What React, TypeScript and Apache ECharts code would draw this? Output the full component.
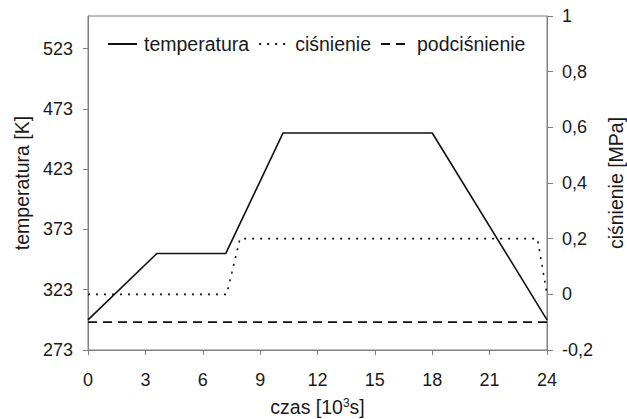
import React, { useEffect, useRef } from "react";
import * as echarts from "echarts";

const seriesNames = ["temperatura", "ciśnienie", "podciśnienie"];
const xTicks = [0, 3, 6, 9, 12, 15, 18, 21, 24];
const tempTicks = [273, 323, 373, 423, 473, 523];
const temperatura: [number, number][] = [
  [0, 298],
  [3.6, 353],
  [7.2, 353],
  [10.2, 453],
  [18, 453],
  [24, 298],
];
const cisnienie: [number, number][] = [
  [0, 0],
  [7.25, 0],
  [7.95, 0.2],
  [23.5, 0.2],
  [24, 0],
];
const podcisnienie: [number, number][] = [
  [0, -0.1],
  [24, -0.1],
];

const FONT = "Liberation Sans, Arial, Helvetica, sans-serif";
const TXT = "#1a1a1a";
const AX = "#7f7f7f";

export default function App() {
  const ref = useRef<HTMLDivElement>(null);
  useEffect(() => {
    if (!ref.current) return;
    const chart = echarts.init(ref.current, undefined, { renderer: "svg" });
    const lbl = { color: TXT, fontSize: 18, fontFamily: FONT };
    const nameStyle = { color: TXT, fontSize: 19.5, fontFamily: FONT };
    chart.setOption({
      animation: false,
      textStyle: { fontFamily: FONT },
      grid: {
        left: 88,
        right: 80,
        top: 16,
        bottom: 69,
        outerBoundsMode: "none",
        containLabel: false,
        show: true,
        borderColor: AX,
        borderWidth: 1,
        backgroundColor: "transparent",
      },
      legend: {
        data: seriesNames,
        left: 107,
        top: 34,
        padding: 0,
        itemWidth: 29,
        itemHeight: 12,
        itemGap: 9,
        itemStyle: { opacity: 0 },
        textStyle: { color: TXT, fontSize: 19.5, fontFamily: FONT, padding: [0, 0, 0, 2] },
      },
      xAxis: {
        type: "value",
        min: xTicks[0],
        max: xTicks[xTicks.length - 1],
        interval: 3,
        name: "{a|czas [10}{s|3}{a|s]}",
        nameLocation: "middle",
        nameGap: 47,
        nameTextStyle: {
          rich: {
            a: { ...nameStyle, lineHeight: 20 },
            s: { color: TXT, fontFamily: FONT, fontSize: 12, verticalAlign: "top", lineHeight: 12 },
          },
        },
        axisLine: { onZero: false, lineStyle: { color: AX, width: 1 } },
        axisTick: { length: 5, lineStyle: { color: AX } },
        axisLabel: { ...lbl, margin: 21 },
        splitLine: { show: false },
      },
      yAxis: [
        {
          type: "value",
          min: 273,
          max: 550,
          name: "temperatura [K]",
          nameLocation: "middle",
          nameGap: 56,
          nameTextStyle: nameStyle,
          axisLine: { show: true, onZero: false, lineStyle: { color: AX, width: 1 } },
          axisTick: { show: true, length: 5, lineStyle: { color: AX }, customValues: tempTicks },
          axisLabel: { ...lbl, margin: 15, customValues: tempTicks },
          splitLine: { show: false },
        },
        {
          type: "value",
          min: -0.2,
          max: 1,
          interval: 0.2,
          position: "right",
          name: "ciśnienie [MPa]",
          nameLocation: "middle",
          nameGap: 59,
          nameRotate: 90,
          nameTextStyle: nameStyle,
          axisLine: { show: true, onZero: false, lineStyle: { color: AX, width: 1 } },
          axisTick: { show: true, length: 6, lineStyle: { color: AX } },
          axisLabel: {
            ...lbl,
            margin: 15,
            formatter: (v: number) => String(Math.round(v * 10) / 10).replace(".", ","),
          },
          splitLine: { show: false },
        },
      ],
      series: [
        {
          name: seriesNames[0],
          type: "line",
          yAxisIndex: 0,
          data: temperatura,
          symbol: "none",
          lineStyle: { color: "#111", width: 1.6, type: "solid" },
          itemStyle: { color: "#111" },
        },
        {
          name: seriesNames[1],
          type: "line",
          yAxisIndex: 1,
          data: cisnienie,
          symbol: "none",
          lineStyle: { color: "#111", width: 1.6, type: [2, 6] },
          itemStyle: { color: "#111" },
        },
        {
          name: seriesNames[2],
          type: "line",
          yAxisIndex: 1,
          data: podcisnienie,
          symbol: "none",
          lineStyle: { color: "#111", width: 1.6, type: [9, 6] },
          itemStyle: { color: "#111" },
        },
      ],
    });
    return () => chart.dispose();
  }, []);
  return <div ref={ref} style={{ width: 627, height: 419, position: "absolute", left: 0, top: 0 }} />;
}
